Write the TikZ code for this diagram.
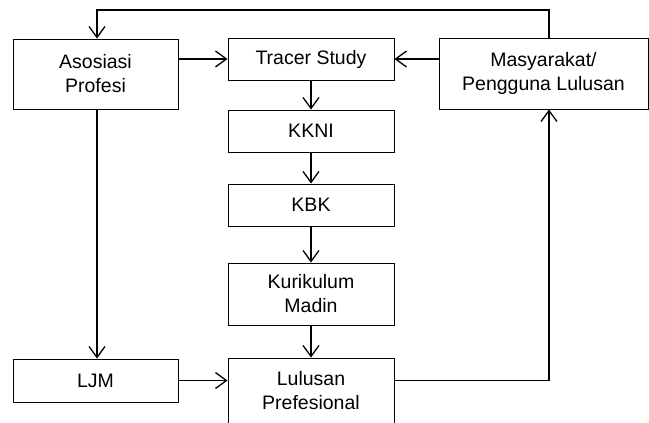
\documentclass[tikz,border=0pt]{standalone}
\usepackage{fontspec}
\setmainfont{Liberation Sans}
\usetikzlibrary{arrows.meta}

\begin{document}
\begin{tikzpicture}[x=1pt,y=-1pt,>={Straight Barb[length=11pt,width=16pt,line width=1.3pt]},
        kotak/.style={draw,rectangle,line width=0.9pt,align=center,inner sep=0pt,
            font=\fontsize{19.5}{24}\selectfont},
        panah/.style={->,line width=1.6pt}]
        \useasboundingbox (0,0) rectangle (649,423);
        \node [kotak,minimum width=165,minimum height=70](a)at(95.5,74){Asosiasi\\Profesi};
        \node [kotak,minimum width=166,minimum height=42](t)at(311,59){Tracer Study};
        \node [kotak,minimum width=166,minimum height=42](k)at(311,131){KKNI};
        \node [kotak,minimum width=166,minimum height=42](b)at(311,205){KBK};
        \node [kotak,minimum width=166,minimum height=62](m)at(311,294){Kurikulum\\Madin};
        \node [kotak,minimum width=166,minimum height=66](l)at(311,391){Lulusan\\Prefesional};
        \node [kotak,minimum width=165,minimum height=43](j)at(95.5,380.5){LJM};
        \node [kotak,minimum width=209,minimum height=71](p)at(543.5,73.5){Masyarakat/\\Pengguna Lulusan};
        \coordinate(atas)at(320,10);
        \draw[panah](a.east|-t.west)--(t.west);
        \draw[panah](p.west|-t.east)--(t.east);
        \draw[panah](t)--(k);
        \draw[panah](k)--(b);
        \draw[panah](b)--(m);
        \draw[panah](m)--(l);
        \draw[panah]([xshift=1.5]a.south)--([xshift=1.5]j.north);
        \draw[panah](j.east)--(j.east-|l.west);
        \draw[panah](j.east-|l.east)-|([xshift=5.5]p.south);
        \draw[panah]([xshift=5.5]p.north)|-(atas)-|([xshift=1.5]a.north);
        \end{tikzpicture}
\end{document}
